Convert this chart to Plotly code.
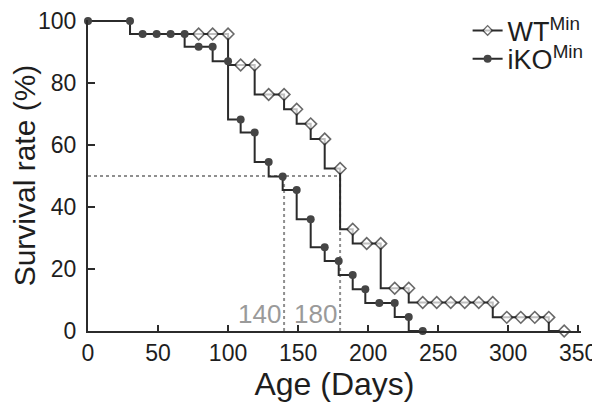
import plotly.graph_objects as go

# Sampled Kaplan-Meier survival (%), drawn as 'vh' steps
wt_days = [0, 30, 39, 49, 59, 69, 79, 89, 100, 109, 119, 129, 140, 149, 159, 169, 180,
           189, 199, 209, 219, 229, 239, 249, 259, 269, 279, 289, 299, 309, 319, 329, 340]
wt_surv = [100, 100, 95.8, 95.8, 95.8, 95.8, 95.8, 95.8, 95.8, 85.8, 85.8, 76.3, 76.3, 71.5, 66.8, 61.9, 52.4,
           32.8, 28.2, 28.2, 13.8, 13.8, 9.2, 9.2, 9.2, 9.2, 9.2, 9.2, 4.4, 4.4, 4.4, 4.4, 0]

ko_days = [0, 30, 39, 49, 59, 69, 79, 89, 100, 109, 119, 129, 139, 149, 159, 169, 179,
           189, 198, 208, 219, 229, 239]
ko_surv = [100, 100, 95.8, 95.8, 95.8, 95.8, 91.7, 91.7, 87.0, 68.2, 64.0, 54.5, 49.8, 45.5, 36.0, 27.0, 22.6,
           18.1, 13.5, 9.0, 9.0, 4.5, 0]

median_days = [140, 180]
median_level = 50
x_ticks = [0, 50, 100, 150, 200, 250, 300, 350]
y_ticks = [0, 20, 40, 60, 80, 100]

FONT = "Liberation Sans, Arial, Helvetica, sans-serif"
dot_col = "#8f8f8f"
ink = "#2b2b2b"

# WT markers hidden where the iKO point covers them
ko_map = dict(zip(ko_days, ko_surv))
wt_msize = [0 if ko_map.get(d) == s else 9 for d, s in zip(wt_days, wt_surv)]
wt_mlw = [0 if ko_map.get(d) == s else 1.6 for d, s in zip(wt_days, wt_surv)]

fig = go.Figure()

# median guide lines
fig.add_trace(go.Scatter(x=[0, max(median_days)], y=[median_level, median_level], mode="lines",
                         line=dict(color=dot_col, width=2, dash="dot"), showlegend=False, hoverinfo="skip"))
for d in median_days:
    fig.add_trace(go.Scatter(x=[d, d], y=[0, median_level], mode="lines",
                             line=dict(color=dot_col, width=2, dash="dot"), showlegend=False, hoverinfo="skip"))

fig.add_trace(go.Scatter(x=wt_days, y=wt_surv, mode="lines+markers", name="WT<sup>Min</sup>",
                         line=dict(color=ink, width=2, shape="vh"),
                         marker=dict(symbol="diamond", size=wt_msize, color="white",
                                     line=dict(color=ink, width=wt_mlw)),
                         cliponaxis=False, legend="legend"))
fig.add_trace(go.Scatter(x=ko_days, y=ko_surv, mode="lines+markers", name="iKO<sup>Min</sup>",
                         line=dict(color=ink, width=2, shape="vh"),
                         marker=dict(symbol="circle", size=8, color="#454545"),
                         cliponaxis=False, legend="legend2"))

for d in median_days:
    fig.add_annotation(x=d, y=5.5, text=str(d), showarrow=False, xanchor="right", yanchor="middle",
                       xshift=-1, font=dict(family=FONT, size=26, color="#9a9a9a"))

leg_common = dict(xanchor="left", yanchor="middle", bgcolor="rgba(0,0,0,0)",
                  font=dict(family=FONT, size=27, color="#1e1e1e"), itemwidth=30)

# page body adds an 8px offset, so the figure is 8px smaller on each axis
fig.update_layout(
    width=592, height=410,
    margin=dict(l=80, r=19, t=12, b=87, autoexpand=False),
    paper_bgcolor="white", plot_bgcolor="white",
    font=dict(family=FONT, size=23, color="#1e1e1e"),
    showlegend=True,
    legend=dict(x=0.770, y=0.965, **leg_common),
    legend2=dict(x=0.770, y=0.874, **leg_common),
    xaxis=dict(range=[0, 352], tickvals=x_ticks, ticks="inside", ticklen=6, tickwidth=2,
               tickcolor=ink, showline=True, linecolor=ink, linewidth=2,
               showgrid=False, zeroline=False, tickfont=dict(size=23), ticklabelstandoff=0,
               automargin=False, ticklabeloverflow="allow",
               title=dict(text="Age (Days)", font=dict(size=32), standoff=2)),
    yaxis=dict(range=[0, 100.3], tickvals=y_ticks, ticks="inside", ticklen=7, tickwidth=2,
               tickcolor=ink, showline=True, linecolor=ink, linewidth=2,
               showgrid=False, zeroline=False, tickfont=dict(size=23), ticklabelstandoff=5,
               automargin=False, ticklabeloverflow="allow",
               title=dict(text="Survival rate (%)", font=dict(size=30), standoff=0)),
)

fig.write_html("out.html")
